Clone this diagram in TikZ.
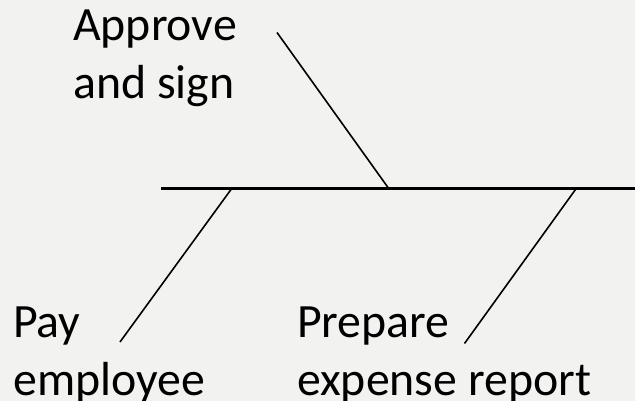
\documentclass[tikz,border=0pt]{standalone}
\usepackage{fontspec}
\setmainfont{Carlito}
\definecolor{bgc}{HTML}{F2F2F1}
\begin{document}
\begin{tikzpicture}[x=1pt,y=-1pt,
  spine/.style={line width=2.4pt,black},
  bone/.style={line width=1.6pt,black},
  lbl/.style={anchor=base west,align=left,inner sep=0pt,font=\fontsize{47.8}{58}\selectfont}]
\fill[bgc] (0,0) rectangle (635,401);
\useasboundingbox (0,0) rectangle (635,401);
% spine
\coordinate (s0) at (161,188.5);
\coordinate (s1) at (636,188.5);
\draw[spine] (s0) -- (s1);
% bones
\coordinate (a1) at (277,32.5);
\coordinate (a2) at (388,187.5);
\coordinate (p1) at (231,189.5);
\coordinate (p2) at (120,342);
\coordinate (r1) at (575.5,189.5);
\coordinate (r2) at (464.5,343.5);
\draw[bone] (a1) -- (a2);
\draw[bone] (p1) -- (p2);
\draw[bone] (r1) -- (r2);
% labels (anchored at the baseline of the last line)
\node[lbl] (approve) at (73,99) {Approve\\and sign};
\node[lbl] (pay) at (13,395) {Pay\\employee};
\node[lbl] (prepare) at (297,395) {Prepare\\expense report};
\end{tikzpicture}
\end{document}
